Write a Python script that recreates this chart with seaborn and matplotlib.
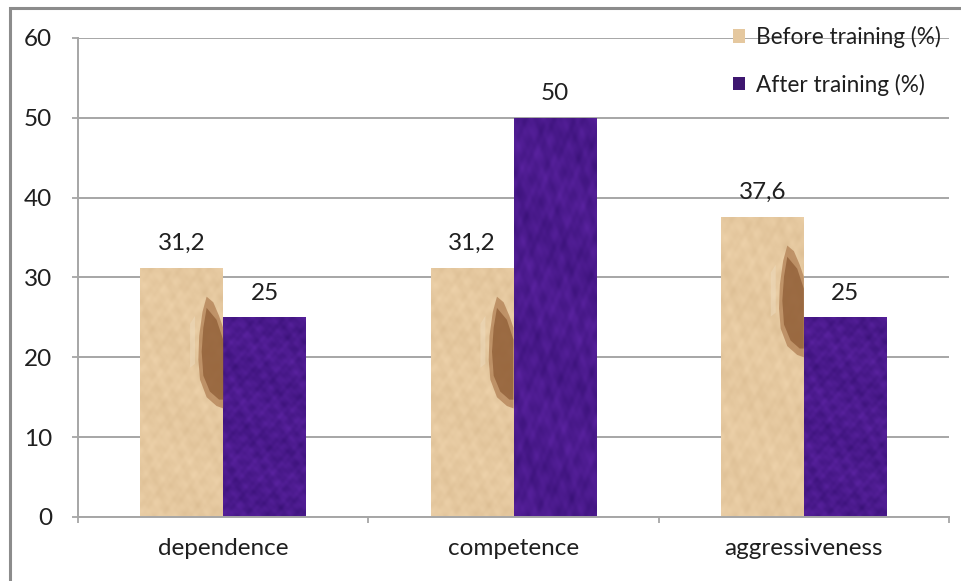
import numpy as np
import pandas as pd
import matplotlib
matplotlib.use("Agg")
import matplotlib.pyplot as plt
from matplotlib.patches import Rectangle, Patch
import seaborn as sns

categories = ["dependence", "competence", "aggressiveness"]
series_names = ["Before training (%)", "After training (%)"]
before_values = [31.2, 31.2, 37.6]
after_values = [25, 50, 25]
value_labels_before = ["31,2", "31,2", "37,6"]
value_labels_after = ["25", "50", "25"]
y_ticks = [0, 10, 20, 30, 40, 50, 60]

df = pd.DataFrame({
    "category": categories * 2,
    "series": [series_names[0]] * 3 + [series_names[1]] * 3,
    "value": before_values + after_values,
})

sns.set_theme(style="white")
plt.rcParams["font.family"] = ["Lato", "DejaVu Sans"]

TAN = "#E5C89F"
PURPLE = "#4A1A8C"
GRID = "#A6A6A6"
TEXT = "#1f1f1f"
FS = 17.5

fig = plt.figure(figsize=(9.62, 5.81), dpi=100)
ax = fig.add_axes([0.0811, 0.1102, 0.9054, 0.8244])

sns.barplot(data=df, x="category", y="value", hue="series",
            palette=[TAN, PURPLE], width=0.57, gap=0, saturation=1,
            linewidth=0, legend=False, ax=ax)
before_container, after_container = ax.containers[0], ax.containers[1]

ax.set_ylim(0, 60)
ax.set_xlim(-0.5, 2.5)
ax.set_yticks(y_ticks)
ax.set_xlabel("")
ax.set_ylabel("")
ax.yaxis.grid(True, color=GRID, linewidth=1.4)
ax.set_axisbelow(True)

# Category boundary ticks on the x axis, labels at centres
ax.set_xticks([-0.5, 0.5, 1.5, 2.5], minor=False)
ax.set_xticklabels([])
ax.set_xticks([0, 1, 2], minor=True)
ax.set_xticklabels(categories, minor=True, fontsize=FS, color=TEXT)
ax.tick_params(axis="x", which="major", length=4.5, width=1.3, color=GRID, direction="out", bottom=True)
ax.tick_params(axis="x", which="minor", length=0, pad=15)
ax.tick_params(axis="y", length=4.5, width=1.3, color=GRID, direction="out", left=True,
               labelsize=FS, labelcolor=TEXT, pad=14)

for side in ["top", "right"]:
    ax.spines[side].set_visible(False)
for side in ["left", "bottom"]:
    ax.spines[side].set_color(GRID)
    ax.spines[side].set_linewidth(1.4)

# Mottled paper / velvet texture inside each bar
yy, xx = np.mgrid[0:160, 0:60].astype(float)
wave = np.zeros_like(xx)
for fx, fy, ph, a in [(0.53, 0.21, 0.3, 1.0), (-0.31, 0.47, 1.7, 0.9),
                      (0.91, -0.63, 2.9, 0.6), (0.17, 0.83, 4.1, 0.7),
                      (-0.77, -0.29, 0.9, 0.5), (1.37, 1.11, 3.3, 0.35),
                      (-1.23, 0.97, 5.2, 0.35), (0.07, 0.13, 1.1, 0.8)]:
    wave += a * np.sin(fx * xx + fy * yy + ph)
wave = (wave - wave.min()) / (wave.max() - wave.min())

def textured(base, amp):
    rgb = np.array(matplotlib.colors.to_rgb(base))
    img = rgb[None, None, :] + (wave[..., None] - 0.5) * amp
    return np.clip(img, 0, 1)

# feather-like brown streak, (fraction of bar width, units below bar top)
streak_outer = [(0.80, 3.6), (0.75, 5.5), (0.71, 8.5), (0.70, 11.5), (0.72, 14.0),
                (0.80, 16.2), (0.92, 17.3), (1.00, 17.6), (1.00, 7.5), (0.95, 6.0),
                (0.88, 4.3)]
streak_inner = [(0.80, 5.0), (0.76, 7.5), (0.74, 10.5), (0.76, 13.5), (0.84, 15.5),
                (0.95, 16.5), (1.00, 16.5), (1.00, 9.0), (0.92, 6.5)]

for kind, container in (("before", before_container), ("after", after_container)):
    for bar in container:
        x0, y0 = bar.get_x(), bar.get_y()
        w, h = bar.get_width(), bar.get_height()
        if kind == "before":
            img = textured(TAN, np.array([0.07, 0.08, 0.09]))
        else:
            img = textured(PURPLE, np.array([0.13, 0.07, 0.16]))
        im = ax.imshow(img, extent=[x0, x0 + w, y0, y0 + h], aspect="auto",
                       origin="lower", zorder=2, interpolation="bicubic")
        im.set_clip_path(bar)
        if kind == "before":
            top = y0 + h
            ax.add_patch(plt.Polygon([[x0 + fx * w, top - dy] for fx, dy in streak_outer],
                                     closed=True, facecolor="#A56E42", alpha=0.6, lw=0, zorder=3))
            ax.add_patch(plt.Polygon([[x0 + fx * w, top - dy] for fx, dy in streak_inner],
                                     closed=True, facecolor="#7E4A24", alpha=0.55, lw=0, zorder=3))
            # pale highlight left of the streak
            ax.add_patch(plt.Polygon([[x0 + 0.60 * w, top - 7], [x0 + 0.66 * w, top - 6],
                                      [x0 + 0.66 * w, top - 12], [x0 + 0.60 * w, top - 12.5]],
                                     closed=True, facecolor="#EEDCBF", alpha=0.5, lw=0, zorder=3))
ax.set_xlim(-0.5, 2.5)
ax.set_ylim(0, 60)

ax.bar_label(before_container, labels=value_labels_before, padding=10,
             fontsize=FS, color=TEXT)
ax.bar_label(after_container, labels=value_labels_after, padding=10,
             fontsize=FS, color=TEXT)

# Legend in the upper right, overlapping the top grid line
handles = [Patch(facecolor=TAN, edgecolor="none"), Patch(facecolor="#3E1670", edgecolor="none")]
fig.legend(handles, series_names, loc="upper left", bbox_to_anchor=(733 / 962, 1 - 26 / 581),
           frameon=False, fontsize=16.3, handlelength=0.55, handleheight=0.55,
           handletextpad=0.45, labelspacing=1.12, borderpad=0, borderaxespad=0,
           labelcolor=TEXT)

# Chart area border
fig.add_artist(Rectangle((10 / 962, -0.1), 1.2, 1 - 8 / 581 + 0.1,
                         transform=fig.transFigure, fill=False,
                         edgecolor="#8C8C8C", linewidth=2.2))

fig.savefig("out.png", dpi=100)
